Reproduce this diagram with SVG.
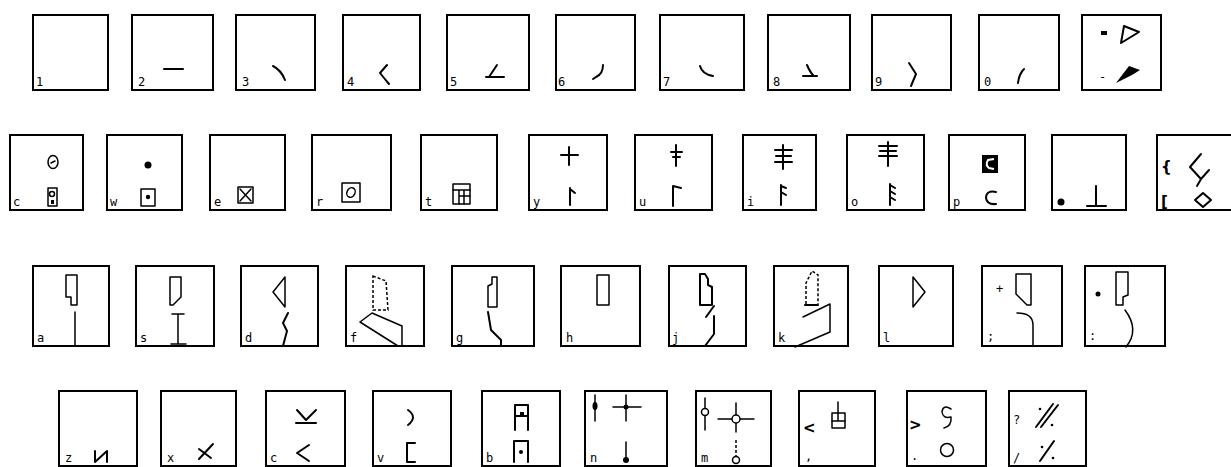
<svg xmlns="http://www.w3.org/2000/svg" width="1231" height="467" viewBox="0 0 1231 467">
<style>
.bx{fill:none;stroke:#000;stroke-width:2}
.s{fill:none;stroke:#000;stroke-width:2;stroke-linecap:round;stroke-linejoin:round}
.t{fill:none;stroke:#000;stroke-width:1.5;stroke-linecap:round;stroke-linejoin:round}
.d{fill:none;stroke:#000;stroke-width:1.5;stroke-dasharray:3 2}
.f{fill:#000}
.w{fill:#fff;stroke:#000;stroke-width:1.5}
.lb{font-family:"DejaVu Sans Mono","Liberation Mono",monospace;font-size:12px;fill:#000}
.sy{font-family:"DejaVu Sans","Liberation Sans",sans-serif;font-size:15px;font-weight:bold;fill:#000}
</style>
<rect width="1231" height="467" fill="#fff"/>

<!-- Row 1 -->
<g id="key-1"><rect class="bx" x="33" y="15" width="75" height="75"/><text class="lb" x="36" y="86">1</text></g>
<g id="key-2"><rect class="bx" x="132" y="15" width="81" height="75"/><text class="lb" x="138" y="86">2</text><path class="s" d="M164,69 H183" stroke-width="2.5"/></g>
<g id="key-3"><rect class="bx" x="236" y="15" width="79" height="75"/><text class="lb" x="242" y="86">3</text><path class="s" d="M273,66 Q281,70 285,80"/></g>
<g id="key-4"><rect class="bx" x="343" y="15" width="77" height="75"/><text class="lb" x="347" y="86">4</text><path class="s" d="M387,65 L380,73 Q384,78 389,84"/></g>
<g id="key-5"><rect class="bx" x="447" y="15" width="82" height="75"/><text class="lb" x="450" y="86">5</text><path class="s" d="M497,65 L489,77 M486,77 H504" stroke-width="2.5"/></g>
<g id="key-6"><rect class="bx" x="556" y="15" width="79" height="75"/><text class="lb" x="558" y="86">6</text><path class="s" d="M603,65 Q603,74 596,77 L593,79"/></g>
<g id="key-7"><rect class="bx" x="660" y="15" width="84" height="75"/><text class="lb" x="663" y="86">7</text><path class="s" d="M700,66 Q702,74 713,76"/></g>
<g id="key-8"><rect class="bx" x="768" y="15" width="82" height="75"/><text class="lb" x="773" y="86">8</text><path class="s" d="M807,65 Q810,72 813,75 M803,76 H817"/></g>
<g id="key-9"><rect class="bx" x="872" y="15" width="79" height="75"/><text class="lb" x="875" y="86">9</text><path class="s" d="M909,63 L916,74 L911,86"/></g>
<g id="key-0"><rect class="bx" x="979" y="15" width="80" height="75"/><text class="lb" x="984" y="86">0</text><path class="s" d="M1024,69 Q1019,74 1018,83"/></g>
<g id="key-minus"><rect class="bx" x="1082" y="15" width="79" height="75"/>
<rect class="f" x="1101" y="31" width="6" height="4"/>
<polygon class="s" points="1124,26 1139,32 1121,43"/>
<text class="lb" x="1099" y="81">-</text>
<polygon class="f" points="1116,83 1129,66 1140,70 1132,75"/></g>

<!-- Row 2 -->
<g id="key-q"><rect class="bx" x="10" y="135" width="73" height="75"/><text class="lb" x="13" y="206">c</text>
<ellipse class="t" cx="53" cy="162" rx="5" ry="6.5"/><path class="t" d="M51,163 L55,161"/>
<rect class="t" x="48" y="188" width="9" height="18"/><circle class="t" cx="52" cy="194" r="2.5"/><rect class="f" x="51" y="200" width="3" height="4"/></g>
<g id="key-w"><rect class="bx" x="107" y="135" width="75" height="75"/><text class="lb" x="110" y="206">w</text>
<circle class="f" cx="148" cy="165" r="3.5"/><rect class="t" x="141" y="189" width="14" height="17"/><circle class="f" cx="148" cy="197" r="2.2"/></g>
<g id="key-e"><rect class="bx" x="210" y="135" width="75" height="75"/><text class="lb" x="214" y="206">e</text>
<rect class="t" x="238" y="187" width="15" height="16"/><path class="t" d="M240,189 L251,201 M251,189 L240,201"/></g>
<g id="key-r"><rect class="bx" x="312" y="135" width="79" height="75"/><text class="lb" x="316" y="206">r</text>
<rect class="t" x="342" y="183" width="18" height="19"/><ellipse class="t" cx="351" cy="192.5" rx="4" ry="5" transform="rotate(25 351 192.5)"/></g>
<g id="key-t"><rect class="bx" x="421" y="135" width="76" height="75"/><text class="lb" x="425" y="206">t</text>
<rect class="t" x="453" y="184" width="17" height="20"/><path class="t" d="M453,190 H470 M459,190 V204 M464,190 V204 M459,196 H470"/></g>
<g id="key-y"><rect class="bx" x="529" y="135" width="78" height="75"/><text class="lb" x="533" y="206">y</text>
<path class="s" d="M561,155 H578 M569,147 V165 M570,188 V205 M570,189 L575,193"/></g>
<g id="key-u"><rect class="bx" x="635" y="135" width="77" height="75"/><text class="lb" x="639" y="206">u</text>
<path class="s" d="M676,145 V166 M671,152 H682 M673,157 H680 M673,206 V186 L681,188"/></g>
<g id="key-i"><rect class="bx" x="743" y="135" width="73" height="75"/><text class="lb" x="747" y="206">i</text>
<path class="s" d="M783,145 V169 M775,150 H792 M776,156 H791 M775,162 H792 M781,205 V185 M781,186 L786,188 M781,192 L786,195"/></g>
<g id="key-o"><rect class="bx" x="847" y="135" width="77" height="75"/><text class="lb" x="851" y="206">o</text>
<path class="s" d="M888,142 V166 M879,146 H897 M880,151 H896 M879,156 H897 M890,205 V184 M890,185 L895,188 M890,191 L895,194 M890,197 L895,200"/></g>
<g id="key-p"><rect class="bx" x="949" y="135" width="76" height="75"/><text class="lb" x="953" y="206">p</text>
<rect class="f" x="982" y="155" width="16" height="18"/><path d="M994,159 L988,160 Q985,165 989,168 L994,169" fill="none" stroke="#fff" stroke-width="2"/>
<path class="s" d="M996,192 Q986,190 986,198 Q987,205 996,204"/></g>
<g id="key-at"><rect class="bx" x="1052" y="135" width="74" height="75"/><circle class="f" cx="1061" cy="202" r="3.5"/>
<path class="s" d="M1096,186 V206 M1087,206 H1106"/></g>
<g id="key-bracket"><rect class="bx" x="1157" y="135" width="75" height="75"/>
<text class="sy" x="1161" y="172">{</text><text class="sy" x="1161" y="207">[</text>
<path class="s" d="M1201,154 L1190,167 L1201,179 L1209,170 M1201,179 L1197,186"/>
<polygon class="s" points="1203,193 1211,200 1203,207 1195,200"/></g>

<!-- Row 3 -->
<g id="key-a"><rect class="bx" x="33" y="266" width="76" height="80"/><text class="lb" x="37" y="342">a</text>
<polygon class="t" points="66,275 77,275 77,305 71,305 71,297 66,297"/><path class="t" d="M75,312 V346"/></g>
<g id="key-s"><rect class="bx" x="136" y="266" width="78" height="80"/><text class="lb" x="140" y="342">s</text>
<path class="t" d="M170,277 H181 V297 L173,305 H170 Z"/><path class="t" d="M172,314 H184 M178,314 V344 M171,344 H186"/></g>
<g id="key-d"><rect class="bx" x="241" y="266" width="77" height="80"/><text class="lb" x="245" y="342">d</text>
<polygon class="t" points="285,277 273,292 285,307"/><path class="s" d="M288,313 L283,323 L287,331 L283,346"/></g>
<g id="key-f"><rect class="bx" x="346" y="266" width="78" height="80"/><text class="lb" x="350" y="342">f</text>
<path class="d" d="M373,276 L386,281 L388,310 L373,310 Z"/>
<path class="t" d="M372,313 L402,326 M360,322 L372,313 M360,322 L398,346 M402,326 V346"/></g>
<g id="key-g"><rect class="bx" x="452" y="266" width="82" height="80"/><text class="lb" x="456" y="342">g</text>
<polygon class="t" points="492,277 497,277 497,307 488,307 488,286 492,284"/><path class="s" d="M488,312 L491,330 L501,340 V346"/></g>
<g id="key-h"><rect class="bx" x="561" y="266" width="79" height="80"/><text class="lb" x="566" y="342">h</text>
<rect class="t" x="597" y="275" width="12" height="30"/></g>
<g id="key-j"><rect class="bx" x="669" y="266" width="77" height="80"/><text class="lb" x="672" y="342">j</text>
<polygon class="s" points="700,274 705,274 708,279 708,285 712,287 712,305 700,305"/><path class="s" d="M714,306 L706,317 M714,316 V334 L705,346" stroke-width="2.5"/></g>
<g id="key-k"><rect class="bx" x="774" y="266" width="74" height="80"/><text class="lb" x="778" y="342">k</text>
<path class="d" d="M806,304 V283 L812,271 L818,275 V304"/><path class="s" d="M805,305 H818"/>
<path class="t" d="M803,317 L830,304 V332 L795,347"/></g>
<g id="key-l"><rect class="bx" x="879" y="266" width="74" height="80"/><text class="lb" x="883" y="342">l</text>
<polygon class="t" points="913,277 925,292 913,307"/></g>
<g id="key-semicolon"><rect class="bx" x="982" y="266" width="80" height="80"/><text class="lb" x="987" y="340">;</text>
<text class="lb" x="996" y="293">+</text>
<polygon class="t" points="1016,274 1031,274 1031,305 1027,305 1016,294"/><path class="t" d="M1017,313 Q1033,313 1033,325 V346 M1020,346 H1033"/></g>
<g id="key-colon"><rect class="bx" x="1085" y="266" width="80" height="80"/><text class="lb" x="1089" y="340">:</text>
<circle class="f" cx="1098" cy="294" r="2.5"/>
<polygon class="t" points="1116,272 1128,272 1128,295 1123,297 1123,305 1116,305"/><path class="t" d="M1125,310 Q1140,330 1126,347"/></g>

<!-- Row 4 -->
<g id="key-z"><rect class="bx" x="59" y="391" width="78" height="75"/><text class="lb" x="65" y="462">z</text>
<path class="s" d="M95,451 V462 L107,451 V462" stroke-width="2.5"/></g>
<g id="key-x"><rect class="bx" x="161" y="391" width="75" height="75"/><text class="lb" x="167" y="462">x</text>
<path class="s" d="M199,459 L213,444 M199,449 L211,458"/></g>
<g id="key-c"><rect class="bx" x="266" y="391" width="79" height="75"/><text class="lb" x="270" y="462">c</text>
<path class="s" d="M297,410 L306,420 L316,410 M296,423 H316 M309,445 L297,453 L309,461"/></g>
<g id="key-v"><rect class="bx" x="373" y="391" width="78" height="75"/><text class="lb" x="377" y="462">v</text>
<path class="s" d="M408,410 Q418,417 408,425 M415,443 H407 V462 H415"/></g>
<g id="key-b"><rect class="bx" x="482" y="391" width="78" height="75"/><text class="lb" x="486" y="462">b</text>
<path class="s" d="M515,430 V405 H528 V430 M515,416 H528 M514,462 V441 H528 V462"/><rect class="f" x="520" y="412" width="4" height="4"/><circle class="f" cx="521" cy="452" r="2"/></g>
<g id="key-n"><rect class="bx" x="585" y="391" width="82" height="75"/><text class="lb" x="590" y="462">n</text>
<path class="t" d="M595,395 V421 M613,407 H641 M626,395 V421 M626,442 V457"/>
<ellipse class="f" cx="595" cy="406" rx="2.5" ry="4"/><circle class="f" cx="626" cy="407" r="2.5"/><circle class="f" cx="626" cy="460" r="3"/></g>
<g id="key-m"><rect class="bx" x="696" y="391" width="75" height="75"/><text class="lb" x="701" y="462">m</text>
<path class="t" d="M705,398 V430 M718,419 H754 M736,403 V432"/><path class="d" d="M736,440 V456"/>
<circle class="w" cx="705" cy="412" r="3.5"/><circle class="w" cx="736" cy="419" r="4"/><circle class="w" cx="736" cy="460" r="3.5"/></g>
<g id="key-comma"><rect class="bx" x="799" y="391" width="76" height="75"/><text class="lb" x="805" y="460">,</text>
<text class="sy" x="803" y="433">&lt;</text>
<rect class="t" x="832" y="413" width="13" height="15"/><path class="t" d="M832,421 H845 M838,402 V421"/></g>
<g id="key-period"><rect class="bx" x="907" y="391" width="79" height="75"/><text class="lb" x="911" y="460">.</text>
<text class="sy" x="909" y="430">&gt;</text>
<path class="t" d="M951,409 Q943,404 942,412 Q943,419 951,417 Q952,426 944,428"/>
<circle class="t" cx="947" cy="450" r="6.5"/></g>
<g id="key-slash"><rect class="bx" x="1009" y="391" width="77" height="75"/><text class="lb" x="1013" y="424">?</text><text class="lb" x="1013" y="462">/</text>
<path class="s" d="M1036,427 L1053,404 M1041,427 L1058,405"/><circle class="f" cx="1040" cy="409" r="1.3"/><circle class="f" cx="1052" cy="425" r="1.3"/>
<path class="s" d="M1040,461 L1054,441"/><circle class="f" cx="1042" cy="447" r="1.3"/><circle class="f" cx="1053" cy="458" r="1.3"/></g>

<g id="connectors"></g>
</svg>
